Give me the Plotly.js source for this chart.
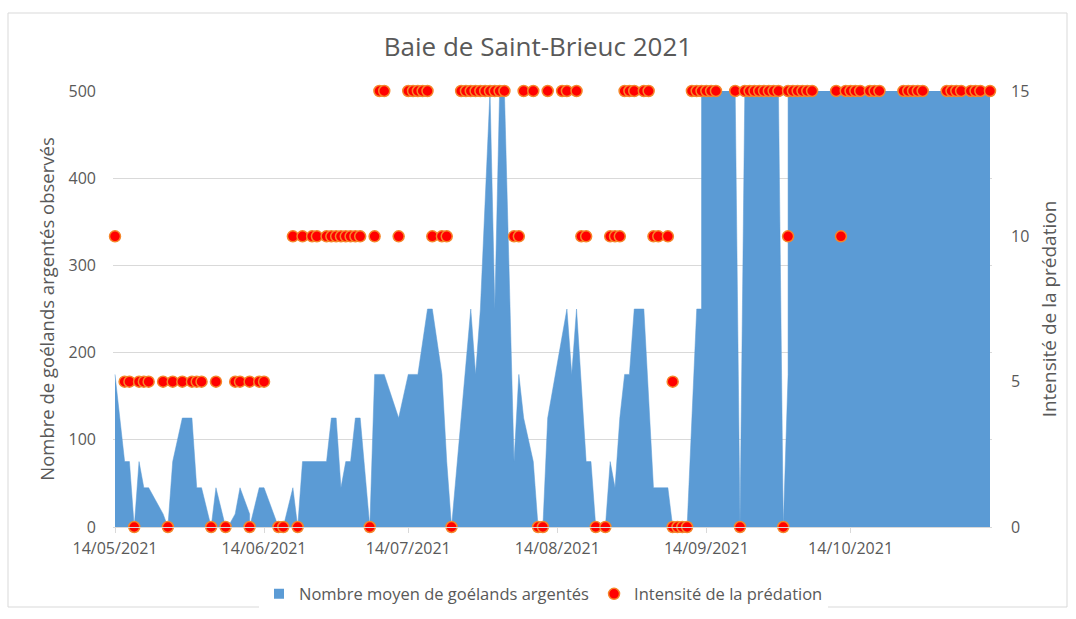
<!DOCTYPE html>
<html>
<head>
<meta charset="utf-8">
<script src="https://cdn.plot.ly/plotly-3.0.1.min.js"></script>
<style>
  html, body { margin: 0; padding: 0; background: #ffffff; }
  #chart { width: 1076px; height: 619px; }
</style>
</head>
<body>
<div id="chart"></div>
<script>
// ---- Data ----
const areaDates = [
  '2021-05-14','2021-05-16','2021-05-17','2021-05-18','2021-05-19','2021-05-20','2021-05-21','2021-05-24','2021-05-25','2021-05-26',
  '2021-05-28','2021-05-30','2021-05-31','2021-06-01','2021-06-03','2021-06-04','2021-06-06','2021-06-07','2021-06-08','2021-06-09',
  '2021-06-11','2021-06-11','2021-06-13','2021-06-14','2021-06-17','2021-06-18','2021-06-20','2021-06-21','2021-06-22','2021-06-24',
  '2021-06-25','2021-06-27','2021-06-28','2021-06-29','2021-06-30','2021-07-01','2021-07-02','2021-07-03','2021-07-04','2021-07-06',
  '2021-07-07','2021-07-08','2021-07-09','2021-07-12','2021-07-14','2021-07-15','2021-07-16','2021-07-18','2021-07-19','2021-07-21',
  '2021-07-22','2021-07-23','2021-07-25','2021-07-27','2021-07-28','2021-07-29','2021-07-31','2021-08-01','2021-08-02','2021-08-03',
  '2021-08-05','2021-08-06','2021-08-07','2021-08-09','2021-08-10','2021-08-11','2021-08-12','2021-08-16','2021-08-17','2021-08-18',
  '2021-08-20','2021-08-21','2021-08-22','2021-08-24','2021-08-25','2021-08-26','2021-08-27','2021-08-28','2021-08-29','2021-08-30',
  '2021-09-01','2021-09-03','2021-09-06','2021-09-07','2021-09-10','2021-09-12','2021-09-13','2021-09-13','2021-09-20','2021-09-21',
  '2021-09-22','2021-09-29','2021-09-30','2021-10-01','2021-10-01','2021-11-12'
];
const gullCounts = [
  175, 75, 75, 0, 75, 45, 45, 15, 0, 75,
  125, 125, 45, 45, 0, 45, 0, 5, 15, 45,
  15, 0, 45, 45, 0, 0, 45, 0, 75, 75,
  75, 75, 125, 125, 45, 75, 75, 125, 125, 0,
  175, 175, 175, 125, 175, 175, 175, 250, 250, 175,
  75, 0, 125, 250, 175, 250, 500, 250, 500, 500,
  75, 175, 125, 75, 0, 0, 125, 250, 175, 250,
  75, 75, 0, 0, 75, 45, 125, 175, 175, 250,
  250, 45, 45, 0, 0, 250, 250, 500, 500, 0,
  500, 500, 0, 175, 500, 500
];

const predDates = [
  '2021-05-14','2021-05-16','2021-05-17','2021-05-18','2021-05-19','2021-05-20','2021-05-21','2021-05-24','2021-05-25','2021-05-26',
  '2021-05-28','2021-05-30','2021-05-31','2021-06-01','2021-06-03','2021-06-04','2021-06-06','2021-06-08','2021-06-09','2021-06-11',
  '2021-06-11','2021-06-13','2021-06-14','2021-06-17','2021-06-18','2021-06-20','2021-06-21','2021-06-22','2021-06-24','2021-06-25',
  '2021-06-27','2021-06-28','2021-06-29','2021-06-30','2021-07-01','2021-07-02','2021-07-03','2021-07-04','2021-07-06','2021-07-07',
  '2021-07-08','2021-07-09','2021-07-12','2021-07-14','2021-07-15','2021-07-16','2021-07-17','2021-07-18','2021-07-19','2021-07-21',
  '2021-07-22','2021-07-23','2021-07-25','2021-07-26','2021-07-27','2021-07-28','2021-07-29','2021-07-30','2021-07-31','2021-08-01',
  '2021-08-02','2021-08-03','2021-08-05','2021-08-06','2021-08-07','2021-08-09','2021-08-10','2021-08-11','2021-08-12','2021-08-15',
  '2021-08-16','2021-08-18','2021-08-19','2021-08-20','2021-08-22','2021-08-24','2021-08-25','2021-08-26','2021-08-27','2021-08-28',
  '2021-08-29','2021-08-30','2021-09-01','2021-09-02','2021-09-03','2021-09-04','2021-09-06','2021-09-07','2021-09-07','2021-09-08',
  '2021-09-09','2021-09-10','2021-09-11','2021-09-12','2021-09-13','2021-09-14','2021-09-15','2021-09-16','2021-09-20','2021-09-21',
  '2021-09-22','2021-09-23','2021-09-24','2021-09-25','2021-09-26','2021-09-27','2021-09-28','2021-09-29','2021-09-30','2021-10-01',
  '2021-10-01','2021-10-02','2021-10-03','2021-10-04','2021-10-05','2021-10-06','2021-10-11','2021-10-12','2021-10-13','2021-10-14',
  '2021-10-15','2021-10-16','2021-10-18','2021-10-19','2021-10-20','2021-10-25','2021-10-26','2021-10-27','2021-10-28','2021-10-29',
  '2021-11-03','2021-11-04','2021-11-05','2021-11-06','2021-11-08','2021-11-09','2021-11-10','2021-11-12'
];
const predIntensity = [
  10, 5, 5, 0, 5, 5, 5, 5, 0, 5,
  5, 5, 5, 5, 0, 5, 0, 5, 5, 5,
  0, 5, 5, 0, 0, 10, 0, 10, 10, 10,
  10, 10, 10, 10, 10, 10, 10, 10, 0, 10,
  15, 15, 10, 15, 15, 15, 15, 15, 10, 10,
  10, 0, 15, 15, 15, 15, 15, 15, 15, 15,
  15, 15, 10, 10, 15, 15, 0, 0, 15, 15,
  15, 15, 10, 10, 0, 0, 10, 10, 10, 15,
  15, 15, 15, 15, 10, 10, 10, 5, 0, 0,
  0, 0, 15, 15, 15, 15, 15, 15, 15, 0,
  15, 15, 15, 15, 15, 15, 15, 15, 0, 10,
  15, 15, 15, 15, 15, 15, 15, 10, 15, 15,
  15, 15, 15, 15, 15, 15, 15, 15, 15, 15,
  15, 15, 15, 15, 15, 15, 15, 15
];

const xTickVals = ['2021-05-14','2021-06-14','2021-07-14','2021-08-14','2021-09-14','2021-10-14'];
const xTickText = ['14/05/2021','14/06/2021','14/07/2021','14/08/2021','14/09/2021','14/10/2021'];

const chartTitle = 'Baie de Saint-Brieuc 2021';
const yTitle = 'Nombre de goélands argentés observés';
const y2Title = 'Intensité de la prédation';
const areaName = 'Nombre moyen de goélands argentés';
const predName = 'Intensité de la prédation';

// ---- Styling ----
const FONT = '"Open Sans", "Liberation Sans", sans-serif';
const TXT = '#595959';
const GRID = '#D9D9D9';
const BLUE = '#5B9BD5';

const traces = [
  {
    type: 'scatter', mode: 'lines', name: areaName,
    x: areaDates, y: gullCounts,
    fill: 'tozeroy', fillcolor: BLUE,
    line: { color: BLUE, width: 0.5 },
    cliponaxis: false, hoverinfo: 'x+y', showlegend: false, legendgroup: 'a'
  },
  {
    // legend swatch only (small square like the reference legend)
    type: 'scatter', mode: 'markers', name: areaName,
    x: [null], y: [null],
    marker: { symbol: 'square', size: 10, color: BLUE },
    showlegend: true, legendgroup: 'a', hoverinfo: 'skip'
  },
  {
    type: 'scatter', mode: 'markers', name: predName,
    x: predDates, y: predIntensity, yaxis: 'y2',
    marker: { symbol: 'circle', size: 11, color: '#FF0000', line: { color: '#F5862A', width: 1.5 } },
    cliponaxis: false, hoverinfo: 'x+y'
  }
];

const layout = {
  width: 1076, height: 619,
  margin: { l: 113, r: 84, t: 91, b: 92, autoexpand: false },
  paper_bgcolor: '#ffffff', plot_bgcolor: '#ffffff',
  font: { family: FONT, color: TXT, size: 16 },
  title: { text: chartTitle, font: { family: FONT, size: 26, color: TXT }, x: 0.5, xanchor: 'center', y: 0.924, yanchor: 'middle' },
  showlegend: true,
  legend: { orientation: 'h', x: 0.5 - 9 / 879, xanchor: 'center', y: -0.154, yanchor: 'middle', font: { family: FONT, size: 16.5, color: TXT }, itemwidth: 30, traceorder: 'normal' },
  xaxis: {
    type: 'date',
    range: ['2021-05-13 14:00', '2021-11-12 10:00'],
    tickvals: xTickVals, ticktext: xTickText,
    ticks: 'outside', ticklen: 5, tickcolor: GRID,
    showline: true, linecolor: GRID, linewidth: 1,
    showgrid: false, zeroline: false,
    ticklabelstandoff: 2,
    tickfont: { family: FONT, size: 16, color: TXT },
    fixedrange: true
  },
  yaxis: {
    range: [0, 500], tickvals: [0, 100, 200, 300, 400, 500],
    showgrid: true, gridcolor: GRID, gridwidth: 1,
    zeroline: false, showline: false, ticks: '',
    ticklabelstandoff: 16,
    tickfont: { family: FONT, size: 16, color: TXT },
    title: { text: yTitle, font: { family: FONT, size: 18.5, color: TXT }, standoff: 9 },
    fixedrange: true
  },
  yaxis2: {
    overlaying: 'y', side: 'right',
    range: [0, 15], tickvals: [0, 5, 10, 15],
    showgrid: false, zeroline: false, showline: false, ticks: '',
    ticklabelstandoff: 18,
    tickfont: { family: FONT, size: 16, color: TXT },
    title: { text: y2Title, font: { family: FONT, size: 19, color: TXT }, standoff: 14 },
    fixedrange: true
  },
  shapes: [
    { type: 'rect', xref: 'paper', yref: 'paper',
      x0: (8 - 113) / 879, x1: (1067 - 113) / 879,
      y0: (527 - 607) / 436, y1: (527 - 13) / 436,
      line: { color: '#D9D9D9', width: 1 }, fillcolor: 'rgba(0,0,0,0)', layer: 'below' }
  ]
};

Plotly.newPlot('chart', traces, layout, { displayModeBar: false, staticPlot: true });
</script>
</body>
</html>
